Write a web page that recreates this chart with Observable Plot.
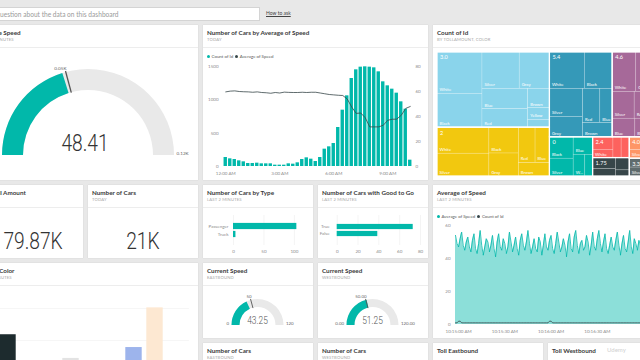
<!DOCTYPE html>
<html><head><meta charset="utf-8">
<script src="https://cdn.jsdelivr.net/npm/d3@7"></script>
<script src="https://cdn.jsdelivr.net/npm/@observablehq/plot@0.6"></script>
<style>
body{margin:0;width:640px;height:360px;overflow:hidden;background:#e8e8e8;position:relative;font-family:Lato,"Open Sans",sans-serif;}
.tile{position:absolute;background:#fff;overflow:hidden;box-shadow:0 0 1px rgba(0,0,0,0.15);}
.t{position:absolute;left:4px;top:5px;font-size:6.3px;font-weight:700;color:#3a3a3a;white-space:nowrap;line-height:1}
.s{position:absolute;left:4px;top:12.8px;font-size:4.2px;color:#a8a8a8;white-space:nowrap;letter-spacing:0.15px;line-height:1}
.sep{position:absolute;left:0;right:0;top:22px;height:1px;background:#ededed}
.kpi{position:absolute;left:0;right:0;text-align:center;font-family:Roboto,sans-serif;font-weight:300;color:#333;white-space:nowrap;line-height:1}
.kpi span{display:inline-block;transform:scaleX(0.8)}
.leg{position:absolute;font-size:4.4px;color:#555;white-space:nowrap;line-height:1}
.leg i{display:inline-block;width:3px;height:3px;border-radius:50%;margin-right:1.5px;vertical-align:middle;position:relative;top:-0.4px}
</style></head><body>
<script>
// ---------------- DATA ----------------
// Gauges
const avgSpeedValue = 48.41, avgSpeedTarget = 50, avgSpeedMin = 0, avgSpeedMax = 120;
const avgSpeedLabels = ["0", "0.05K", "0.12K"];
const eastSpeedValue = 43.25, westSpeedValue = 51.25, speedTarget = 50, speedMin = 0, speedMax = 120;
const eastLabels = ["0", "50", "120"], westLabels = ["0.00", "50.00", "120.00"];
// KPI cards
const kpiTollAmount = "179.87K", kpiCars = "21K";
// Number of Cars by Average of Speed (15-minute bins from 12:00 AM)
const binCount = [135,115,105,85,70,45,45,50,40,40,40,20,20,20,40,35,55,105,130,110,75,135,260,295,345,585,845,1060,1320,1450,1490,1495,1490,1480,1420,1270,1210,1160,1100,970,860,95];
const binSpeed = [59.7,60.3,60.5,60,59.8,59.7,59.4,59.7,59.2,59,58.6,59.2,58.8,59.5,59.3,59.2,59.2,59.4,59.2,59.4,59.4,58.8,58.2,57.6,57.3,57,56.8,54,47.5,42.5,42.8,39,31.7,31.7,31.7,33,37,37.8,37.9,41,46.5,48];
const countTicks = [0,500,1000,1500], speedTicks = [0,20,40,60,80];
// Number of Cars by Type / Good to Go
const carTypes = ["Passenger","Truck"], carTypeCounts = [104,4];
const goodToGo = ["True","False"], goodToGoCounts = [73,39];
// Treemap: Count of Id by TollAmount, Color
const tollGroups = ["3.0","2","5.4","4.6","0","2.4","1.75","4.0","3.35"];
const tollFills = ["#8AD4EB","#F2C80F","#3599B8","#A66999","#01B8AA","#FD625E","#374649","#FE9666","#5F6B6D"];
const tmCarColors = ["White","Silver","Black","Gray","Red","Blue","Brown","Yellow","Green"];
const tmCounts = [
  [22,16,18,13,10,11,5,3,2],
  [16,14,9,8,7,6,5,0,0],
  [15,11,12,8,7,5,5,0,0],
  [11,7,4,8,6,5,0,0,0],
  [3,5,6,2,0,4,0,0,0],
  [2,2,3,0,2,0,0,0,0],
  [3,2,2,1,0,0,0,0,0],
  [3,2,1,0,0,0,0,0,0],
  [2,2,0,1,0,0,0,0,0]
];
// Cars by Color
const colorCats = ["Black","White","Silver","Gray","Red","Brown","Blue","Yellow","Green"];
const colorCounts = [10.9,4,5,7.2,3,2,8.9,15.1,2.5];
const colorFills = ["#1d2b2e","#ffffff","#eeeeee","#e3e3e3","#f4c9c4","#e8dccf","#9db4ec","#fde8d2","#cfe8cf"];
// Average of Speed, last 2 minutes (1 s samples from 10:14:58 AM)
const liveSpeed = [
  54,49,47,52,56,48,45,50,53,47,
  44,51,55,46,43,49,57,48,42,47,
  52,50,44,48,54,46,41,50,55,47,
  45,52,49,43,47,56,50,44,48,53,
  46,42,51,55,48,45,50,57,49,43,
  47,52,46,44,53,50,42,48,55,47,
  45,51,54,46,43,49,56,50,44,47,
  52,48,41,50,55,46,44,53,57,48,
  43,49,51,45,47,54,50,42,48,56,
  47,45,52,57,49,44,50,55,46,43,
  48,53,47,45,51,56,48,42,49,54,
  46,44,50,57,47,43,52,49,45,51,48];
const liveCount = [
  1,1,2,2,1,1,1,1,1,1,
  1,1,1,1,1,1,1,1,1,1,
  1,1,1,1,1,1,1,1,1,1,
  1,1,1,1,1,1,1,1,1,1,
  1,1,1,1,1,1,1,1,1,1,
  1,1,1,1,1,1,1,1,1,1,
  1,2,2,1,1,1,1,1,1,1,
  1,1,1,1,1,1,1,1,1,1,
  1,1,1,1,1,1,1,1,1,1,
  1,1,1,1,1,1,1,1,1,1,
  1,1,1,1,1,1,1,1,1,1,
  1,1,1,1,1,1,1,1,1,1,1];
const liveTicks = ["10:15:00","10:15:30","10:16:00","10:16:30"];

// ---------------- HELPERS ----------------
const TEAL = "#01B8AA", DARK = "#374649";
const baseStyle = {fontFamily: "Lato, sans-serif", fontSize: "4.5px", color: "#8c8c8c", background: "none", overflow: "visible"};
function el(tag, cls, css, parent, html) {
  const e = document.createElement(tag);
  if (cls) e.className = cls;
  if (css) e.style.cssText = css;
  if (html != null) e.innerHTML = html;
  (parent || document.body).appendChild(e);
  return e;
}
function tile(x, y, w, h, title, sub) {
  const t = el("div", "tile", `left:${x}px;top:${y}px;width:${w}px;height:${h}px`);
  el("div", "t", "", t, title);
  if (sub) el("div", "s", "", t, sub);
  el("div", "sep", "", t);
  return t;
}
function place(t, node, x, y) {
  node.style.position = "absolute";
  node.style.left = x + "px";
  node.style.top = y + "px";
  t.appendChild(node);
}
function gauge(o) {
  return Plot.plot({
    width: o.width, height: o.height, margin: 0,
    style: baseStyle,
    x: {domain: [o.min, o.max], range: [-90, 90], axis: null},
    marks: [
      Plot.ruleX([o.min, o.max], {x: d => d, strokeOpacity: 0}),
      (index, scales) => {
        const sx = scales.x;
        const ang = v => sx(v) * Math.PI / 180;
        const g = d3.create("svg:g").attr("transform", `translate(${o.cx},${o.cy})`);
        const arc = d3.arc().innerRadius(o.rIn).outerRadius(o.rOut);
        g.append("path").attr("d", arc({startAngle: ang(o.min), endAngle: ang(o.max)})).attr("fill", "#e9e9e9");
        g.append("path").attr("d", arc({startAngle: ang(o.min), endAngle: ang(o.value)})).attr("fill", TEAL);
        const ta = ang(o.target);
        g.append("line")
          .attr("x1", Math.sin(ta) * (o.rIn - 0.5)).attr("y1", -Math.cos(ta) * (o.rIn - 0.5))
          .attr("x2", Math.sin(ta) * (o.rOut + 1)).attr("y2", -Math.cos(ta) * (o.rOut + 1))
          .attr("stroke", "#555").attr("stroke-width", o.needleW || 1.2);
        const lab = (txt, x, y, anchor) => g.append("text").text(txt).attr("x", x).attr("y", y)
          .attr("text-anchor", anchor).attr("dominant-baseline", "middle")
          .attr("font-size", o.labelSize).attr("fill", "#666");
        lab(o.labels[0], -o.rOut - 2.5, -1, "end");
        lab(o.labels[2], o.rOut + 2.5, -1, "start");
        lab(o.labels[1], Math.sin(ta) * (o.rOut + 1) + 1, -Math.cos(ta) * (o.rOut + 1) - 2.5, "end");
        g.append("text").text(o.valueText)
          .attr("transform", `translate(${o.valueDx || 0},${o.valueY}) scale(0.8,1)`)
          .attr("text-anchor", "middle").attr("font-family", "Roboto, sans-serif").attr("font-weight", 300)
          .attr("font-size", o.valueSize).attr("fill", o.valueFill || "#333");
        return g.node();
      }
    ]
  });
}
function hbar(cats, vals, o) {
  const rows = cats.map((c, i) => ({c, v: vals[i]}));
  return Plot.plot({
    width: 110, height: 50, marginTop: 7, marginBottom: 13, marginLeft: o.ml, marginRight: o.mr,
    style: baseStyle,
    x: {domain: o.domain, axis: null},
    y: {domain: cats, range: o.yRange, padding: 0, axis: null},
    marks: [
      Plot.ruleX(o.ticks, {stroke: "#ececec", strokeWidth: 0.6}),
      Plot.barX(rows, {y: "c", x: "v", fill: TEAL, insetTop: 0.9, insetBottom: 0.9}),
      Plot.axisX({ticks: o.ticks, tickSize: 0, tickPadding: 4, fontSize: 4.5, tickFormat: d => d, label: null}),
      Plot.axisY({tickSize: 0, tickPadding: o.tp, fontSize: 4.5, label: null})
    ]
  });
}

// ---------------- Q&A BAR ----------------
el("div", "", "position:absolute;left:-2px;top:7px;width:260px;height:12px;background:#fff;border:1px solid #d4d4d4;overflow:hidden", document.body,
   '<div style="position:absolute;left:-20px;top:0;line-height:12px;font-size:6.6px;color:#9a9a9a;white-space:nowrap">Ask a question about the data on this dashboard</div>');
el("div", "", "position:absolute;left:266px;top:11px;font-size:5px;color:#444;text-decoration:underline;white-space:nowrap;line-height:1", document.body, "How to ask");

// ---------------- ROW 1 ----------------
// Average Speed gauge
{
  const t = tile(-27, 25, 225, 155, "Average Speed", "LAST 2 MINUTES");
  t.firstChild.style.left = "6px"; t.children[1].style.left = "6px";
  const svg = gauge({width: 225, height: 132, cx: 115, cy: 107, rOut: 86, rIn: 65,
    min: avgSpeedMin, max: avgSpeedMax, value: avgSpeedValue, target: avgSpeedTarget,
    labels: avgSpeedLabels, labelSize: 4.6, valueText: avgSpeedValue.toFixed(2), valueSize: 24, valueY: -4, valueDx: -3, needleW: 1.3});
  place(t, svg, 0, 23);
}
// Number of Cars by Average of Speed
{
  const t = tile(203, 25, 225, 155, "Number of Cars by Average of Speed", "TODAY");
  el("div", "leg", "left:4px;top:30px", t, `<i style="background:${TEAL}"></i>Count of Id&nbsp;&nbsp;<i style="background:${DARK}"></i>Average of Speed`);
  const t0 = Date.UTC(2016, 0, 1, 0, 0);
  const bins = binCount.map((c, i) => ({t: new Date(t0 + i * 15 * 60e3), c, s: binSpeed[i]}));
  const half = 7.5 * 60e3;
  const k = 1500 / 80;
  const svg = Plot.plot({
    width: 225, height: 114, marginTop: 4, marginBottom: 10, marginLeft: 20, marginRight: 16,
    style: baseStyle,
    x: {type: "utc", domain: [new Date(t0 - half), new Date(t0 + 41 * 15 * 60e3 + half)], axis: null},
    y: {domain: [0, 1500], axis: null},
    marks: [
      Plot.rectY(bins, {x1: d => new Date(+d.t - half), x2: d => new Date(+d.t + half), y: "c", fill: TEAL, insetLeft: 0.55, insetRight: 0.55}),
      Plot.line(bins, {x: "t", y: d => d.s * k, stroke: DARK, strokeWidth: 0.8}),
      Plot.axisY({ticks: countTicks, tickFormat: d => String(d), tickSize: 0, tickPadding: 5, fontSize: 4.5, label: null}),
      Plot.axisY({anchor: "right", ticks: speedTicks.map(v => v * k), tickFormat: d => String(Math.round(d / k)), tickSize: 0, tickPadding: 3, fontSize: 4.5, label: null}),
      Plot.axisX({ticks: [0, 3, 6, 9].map(h => new Date(t0 + h * 3600e3)), tickFormat: d3.utcFormat("%-I:%M %p"), tickSize: 0, tickPadding: 5, fontSize: 4.5, label: null})
    ]
  });
  place(t, svg, 0, 37);
}
// Treemap
{
  const t = tile(433, 25, 225, 155, "Count of Id", "BY TOLLAMOUNT, COLOR");
  const W = 216, H = 124;
  const hier = d3.hierarchy({name: "root", children: tollGroups.map((g, i) => ({
      name: g, fill: tollFills[i],
      children: tmCarColors.map((c, j) => ({name: c, value: tmCounts[i][j]})).filter(d => d.value > 0)
    }))})
    .sum(d => d.value || 0).sort((a, b) => b.value - a.value);
  d3.treemap().size([W, H]).tile(d3.treemapSquarify)(hier);
  const groups = hier.children.map(n => ({name: n.data.name, fill: n.data.fill, x0: n.x0, x1: n.x1, y0: n.y0, y1: n.y1}));
  const charW = 2.2;
  const fit = (name, w, h, topGap) => {
    if (h < 8 || w < 8) return "";
    if (topGap < 1 && h < 16) return "";
    const m = Math.floor((w - 3) / charW);
    if (name.length <= m) return name;
    if (m >= 3) return name.slice(0, Math.max(1, m - 2)) + "...";
    return "";
  };
  const leaves = hier.leaves().map(n => ({
    name: n.data.name, fill: n.parent.data.fill, x0: n.x0, x1: n.x1, y0: n.y0, y1: n.y1,
    label: fit(n.data.name, n.x1 - n.x0, n.y1 - n.y0, n.y0 - n.parent.y0)
  }));
  const svg = Plot.plot({
    width: W, height: H, margin: 0, style: baseStyle,
    x: {domain: [0, W], range: [0, W], axis: null},
    y: {domain: [0, H], range: [0, H], axis: null},
    color: {type: "identity"},
    marks: [
      Plot.rect(leaves, {x1: "x0", x2: "x1", y1: "y0", y2: "y1", fill: "fill", stroke: "#fff", strokeOpacity: 0.4, strokeWidth: 0.5}),
      Plot.rect(groups, {x1: "x0", x2: "x1", y1: "y0", y2: "y1", fill: "none", stroke: "#fff", strokeWidth: 1.2}),
      Plot.text(leaves, {x: "x0", y: "y1", text: "label", dx: 2, dy: -2.5, textAnchor: "start", lineAnchor: "bottom", fill: "#fff", fontSize: 4.3}),
      Plot.text(groups, {x: "x0", y: "y0", text: "name", dx: 2.5, dy: 3, textAnchor: "start", lineAnchor: "top", fill: "#fff", fontSize: 5.6})
    ]
  });
  place(t, svg, 4, 27);
}

// ---------------- ROW 2 ----------------
{
  const t = tile(-27, 185, 110, 73, "Total Toll Amount", "TODAY");
  el("div", "kpi", "top:44px;font-size:24px", t, `<span>${kpiTollAmount}</span>`);
}
{
  const t = tile(88, 185, 110, 73, "Number of Cars", "TODAY");
  el("div", "kpi", "top:44px;font-size:24px", t, `<span>${kpiCars}</span>`);
}
{
  const t = tile(203, 185, 110, 73, "Number of Cars by Type", "LAST 2 MINUTES");
  place(t, hbar(carTypes, carTypeCounts, {domain: [0, 110], ticks: [0, 50, 100], ml: 30, mr: 13, tp: 5, yRange: [13.55, 30.15]}), 0, 23);
}
{
  const t = tile(318, 185, 110, 73, "Number of Cars with Good to Go", "LAST 2 MINUTES");
  place(t, hbar(goodToGo, goodToGoCounts, {domain: [0, 80], ticks: [0, 20, 40, 60, 80], ml: 18.7, mr: 8, tp: 7.5, yRange: [13.9, 29.1]}), 0, 23);
}
// Average of Speed (live)
{
  const t = tile(433, 185, 225, 153, "Average of Speed", "LAST 2 MINUTES");
  el("div", "leg", "left:4px;top:29.5px", t, `<i style="background:${TEAL}"></i>Average of Speed&nbsp;&nbsp;<i style="background:${DARK}"></i>Count of Id`);
  const s0 = Date.UTC(2016, 0, 1, 10, 14, 58);
  const pts = liveSpeed.map((v, i) => ({t: new Date(s0 + i * 1000), v, c: liveCount[i]}));
  const tick = s => { const [h, m, sec] = s.split(":").map(Number); return new Date(Date.UTC(2016, 0, 1, h, m, sec)); };
  const svg = Plot.plot({
    width: 225, height: 118, marginTop: 5, marginBottom: 14, marginLeft: 22, marginRight: 18,
    style: baseStyle,
    x: {type: "utc", domain: [new Date(s0), new Date(s0 + 120000)], axis: null},
    y: {domain: [0, 60], axis: null},
    marks: [
      Plot.areaY(pts, {x: "t", y: "v", fill: TEAL, fillOpacity: 0.45}),
      Plot.lineY(pts, {x: "t", y: "v", stroke: TEAL, strokeWidth: 0.8}),
      Plot.lineY(pts, {x: "t", y: "c", stroke: DARK, strokeWidth: 0.8}),
      Plot.axisY({ticks: [0, 20, 40, 60], tickSize: 0, tickPadding: 5, fontSize: 4.5, label: null}),
      Plot.axisX({ticks: liveTicks.map(tick), tickFormat: d3.utcFormat("%-I:%M:%S %p"), tickSize: 0, tickPadding: 5, fontSize: 4.5, label: null})
    ]
  });
  place(t, svg, 0, 35);
}

// ---------------- ROW 3 ----------------
{
  const t = tile(-27, 263, 225, 155, "Cars by Color", "LAST 2 MINUTES");
  const rows = colorCats.map((c, i) => ({c, v: colorCounts[i], f: colorFills[i]}));
  const svg = Plot.plot({
    width: 225, height: 130, marginTop: 13.6, marginBottom: 14, marginLeft: 20.65, marginRight: 9.15,
    style: baseStyle,
    x: {domain: colorCats, padding: 0, axis: null},
    y: {domain: [0, 16], axis: null},
    color: {type: "identity"},
    marks: [
      Plot.ruleY([5, 10, 15], {stroke: "#f2f2f2", strokeWidth: 0.7}),
      Plot.barY(rows, {x: "c", y: "v", fill: "f", insetLeft: 2.3, insetRight: 2.3})
    ]
  });
  place(t, svg, 0, 25);
}
{
  const t = tile(203, 263, 110, 75, "Current Speed", "EASTBOUND");
  place(t, gauge({width: 110, height: 52, cx: 54.5, cy: 39, rOut: 26, rIn: 18, min: speedMin, max: speedMax, value: eastSpeedValue, target: speedTarget,
    labels: eastLabels, labelSize: 4.4, valueText: eastSpeedValue.toFixed(2), valueSize: 10.5, valueY: -1, valueFill: "#555", needleW: 0.9}), 0, 23);
}
{
  const t = tile(318, 263, 110, 75, "Current Speed", "WESTBOUND");
  place(t, gauge({width: 110, height: 52, cx: 54.5, cy: 39, rOut: 26, rIn: 18, min: speedMin, max: speedMax, value: westSpeedValue, target: speedTarget,
    labels: westLabels, labelSize: 4.4, valueText: westSpeedValue.toFixed(2), valueSize: 10.5, valueY: -1, valueFill: "#555", needleW: 0.9}), 0, 23);
}

// ---------------- ROW 4 ----------------
tile(203, 343, 110, 75, "Number of Cars", "EASTBOUND");
tile(318, 343, 110, 75, "Number of Cars", "WESTBOUND");
tile(433, 343, 110, 75, "Toll Eastbound", "");
tile(548, 343, 110, 75, "Toll Westbound", "");
el("div", "", "position:absolute;left:607px;top:347px;font-size:6px;color:#d0d0d0;white-space:nowrap;line-height:1", document.body, "Udemy");
</script>
</body></html>
